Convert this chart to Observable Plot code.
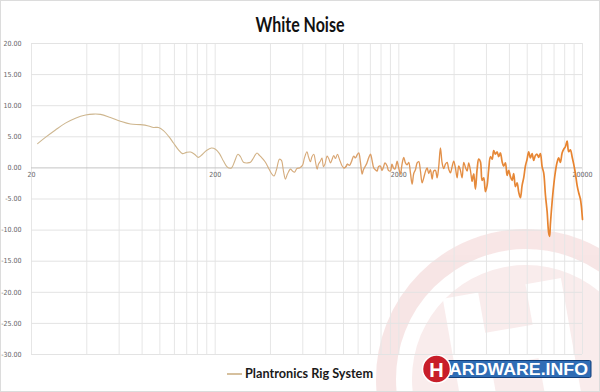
<!DOCTYPE html>
<html>
<head>
<meta charset="utf-8">
<script src="https://cdn.jsdelivr.net/npm/d3@7"></script>
<script src="https://cdn.jsdelivr.net/npm/@observablehq/plot@0.6"></script>
<style>
  html, body { margin: 0; padding: 0; background: #fff; }
  #wrap { position: relative; width: 600px; height: 392px; box-sizing: border-box; border: 1px solid #dcdcdc; overflow: hidden; background: #fff; }
  #wm { position: absolute; left: 0; top: 0; z-index: 0; }
  #content { position: absolute; left: -1px; top: -1px; width: 600px; height: 392px; z-index: 1; }
  #title, #legend { display: block; }
</style>
</head>
<body>
<div id="wrap">
  <svg id="wm" width="600" height="392">
    <g opacity="0.42">
      <circle cx="525" cy="378" r="140" fill="none" stroke="#eec3c3" stroke-width="20"/>
      <circle cx="525" cy="378" r="114" fill="#f2d2d2"/>
      <g transform="rotate(-10 520 350)" fill="#ffffff">
        <rect x="452" y="285" width="36" height="140"/>
        <rect x="536" y="285" width="36" height="140"/>
        <rect x="484" y="326" width="56" height="34"/>
      </g>
    </g>
    <g>
      <rect x="437" y="359.5" width="153" height="17" rx="1.5" fill="#2f6db5" stroke="#123f7a" stroke-width="1"/>
      <text x="448" y="374" fill="#ffffff" font-family="Liberation Sans, Arial, sans-serif" font-weight="bold" font-size="16" textLength="139" lengthAdjust="spacingAndGlyphs">ARDWARE.INFO</text>
      <circle cx="435.5" cy="368" r="14" fill="#c81e2a" stroke="#ffffff" stroke-width="1.5"/>
      <text x="435.5" y="375.5" fill="#ffffff" text-anchor="middle" font-family="Liberation Sans, Arial, sans-serif" font-weight="bold" font-size="20">H</text>
    </g>
  </svg>
  <div id="content">
    <svg id="title" width="600" height="36">
      <text x="300" y="32" text-anchor="middle" font-family="Lato, sans-serif" font-weight="bold" font-size="20" fill="#111" textLength="89" lengthAdjust="spacingAndGlyphs">White Noise</text>
    </svg>
    <div id="chart"></div>
    <svg id="legend" width="600" height="30">
      <line x1="227" x2="242" y1="12" y2="12" stroke="#c9ab7e" stroke-width="1.5"/>
      <text x="245" y="16" font-family="Lato, sans-serif" font-weight="bold" font-size="14" fill="#1a1a1a" textLength="128" lengthAdjust="spacingAndGlyphs">Plantronics Rig System</text>
    </svg>
  </div>
</div>
<script>
// ---- data: frequency (Hz) and level (dB) ----
const bassFreqs = [21.6, 23.8, 27.0, 30.6, 34.7, 39.4, 43.5, 47.5, 53.8, 61.0,
  69.2, 78.4, 86.7, 92.3, 98.3, 104.6, 111.4, 118.6, 126.3, 132.7,
  139.6, 146.8, 154.3, 162.2, 170.6, 179.3, 190.9];
const bassLevels = [3.9, 4.9, 6.1, 7.2, 8.0, 8.5, 8.65, 8.6, 8.1, 7.5,
  7.05, 6.95, 6.75, 6.5, 6.5, 6.0, 5.1, 4.0, 2.9, 2.3,
  2.5, 2.55, 2.2, 1.7, 2.2, 2.8, 3.2];

const midFreqs = [200.8, 211.1, 221.9,
  233.3, 245.3, 254.8, 266.2, 274.7, 285.2, 299.8, 311.3, 323.2, 337.7,
  348.4, 361.8, 375.6, 390.0, 405.0, 417.9, 431.3, 447.7, 459.1, 470.7,
  482.7, 494.9, 513.9, 526.9, 540.3, 557.5, 575.2, 597.3, 612.5, 632.1,
  644.1, 660.4, 672.9, 688.3, 703.1, 718.2, 730.1, 748.6, 762.8, 777.2,
  792.0, 814.1, 830.6, 848.5, 864.6, 884.4, 903.4, 926.3, 949.8, 982.5,
  1005, 1024, 1050, 1077, 1104, 1136, 1161, 1186, 1210, 1236,
  1263, 1283, 1316, 1341, 1366, 1401, 1428, 1460, 1492, 1524,
  1549, 1588, 1618, 1649, 1680, 1727, 1756, 1800, 1834, 1869,
  1905, 1958, 1990];
const midLevels = [3.0, 2.3, 1.1,
  0.1, 0.0, 1.0, 2.2, 1.8, 0.9, 0.8, 0.9, 1.6, 2.4,
  2.0, 1.5, 0.9, 0.0, -0.9, -1.3, -0.3, 1.4, 1.2, -0.5,
  -1.8, -1.0, -0.2, -0.5, -0.7, -0.1, 0.0, 0.4, 1.6, 2.6,
  1.8, 1.0, 1.8, 2.2, 1.0, -0.2, 0.6, 1.1, 1.6, 0.2,
  0.6, 1.9, 1.5, 0.8, 1.3, 2.0, 1.5, 2.2, 1.4, 0.3,
  0.0, 0.1, 0.6, 0.4, 1.0, 1.9, 1.6, 2.1, 2.4, 0.9,
  -1.0, -0.3, 0.3, 0.8, 1.5, 2.2, 1.3, 0.0, -0.3, -0.5,
  0.2, 0.3, -0.4, 0.1, 0.8, 0.3, -0.4, -0.5, 0.6, 0.0,
  -0.2, 1.1, 0.2];

const trebleFreqs = [2041, 2079, 2127, 2173, 2219, 2264, 2313,
  2363, 2411, 2463, 2516, 2567, 2622, 2678, 2733, 2791, 2852,
  2909, 2972, 3036, 3098, 3164, 3232, 3298, 3369, 3441, 3511,
  3587, 3664, 3738, 3819, 3901, 3980, 4066, 4153, 4237, 4329,
  4422, 4512, 4609, 4708, 4803, 4907, 5013, 5114, 5224, 5337,
  5445, 5562, 5682, 5797, 5922, 6049, 6172, 6305, 6441, 6571,
  6713, 6857, 6996, 7147, 7301, 7449, 7609, 7772, 7930, 8101,
  8275, 8443, 8624, 8810, 8989, 9182, 9380, 9570, 9776, 9986,
  10189, 10408, 10633, 10848, 11082, 11320, 11550, 11798, 12052, 12297,
  12561, 12832, 13092, 13241, 13374, 13662, 13939, 14240, 14546, 14841,
  15161, 15487, 15801, 16141, 16489, 16823, 17185, 17556, 17911, 18297,
  18691, 19070, 19480, 19726, 19900, 20000];
const trebleLevels = [-1.0, 0.5, 1.7, 0.8, 0.5, 0.9, -0.8,
  -2.6, -0.9, -0.3, 0.8, 1.0, -0.5, -2.4, -1.6, -0.6, 0.0,
  -0.9, -0.3, -1.8, -0.5, -0.4, -1.6, 0.2, 3.2, 0.8, -0.1,
  0.6, 0.9, -0.2, -0.8, 0.2, 1.1, 0.0, -1.6, 0.3, -0.4,
  -1.6, 0.9, 0.1, -0.5, 0.8, -0.4, -2.1, -1.0, -3.4, -0.2,
  1.4, 1.0, -2.0, -1.6, -3.8, -2.8, -0.2, 1.8, 1.4, 2.8,
  2.2, 2.6, 1.8, 2.4, 1.0, 0.3, 0.8, -1.2, -0.4, -1.4,
  -2.0, -0.9, -3.0, -2.4, -3.9, -4.8, -2.8, -1.6, 0.3, 1.4,
  2.6, 1.6, 2.3, 1.2, 2.0, 2.2, 1.7, 2.3, 0.2, -0.8,
  -4.3, -7.0, -10.5, -11.0, -9.0, -5.5, -2.8, -0.6, 0.9, 1.6,
  0.9, 2.4, 3.0, 3.4, 4.3, 2.6, 2.9, 1.8, 0.6, -0.9,
  -2.8, -4.0, -5.0, -6.2, -7.5, -8.3];

const yTicks = [20, 15, 10, 5, 0, -5, -10, -15, -20, -25, -30];
const xLabels = [20, 200, 2000, 20000];
const xGrid = [20, 40, 60, 80, 100, 120, 140, 160, 180,
  200, 400, 600, 800, 1000, 1200, 1400, 1600, 1800,
  2000, 4000, 6000, 8000, 10000, 12000, 14000, 16000, 18000, 20000];

const freqs = [...bassFreqs, ...midFreqs, ...trebleFreqs];
const levels = [...bassLevels, ...midLevels, ...trebleLevels];
const data = freqs.map((f, i) => ({freq: f, level: levels[i]}));
const lowPart = data.filter(d => d.freq <= 1050);
const midPart = data.filter(d => d.freq >= 1005 && d.freq <= 5114);
const highPart = data.filter(d => d.freq >= 5013);

const chart = Plot.plot({
  width: 600,
  height: 326,
  marginTop: 7,
  marginBottom: 8,
  marginLeft: 31,
  marginRight: 18,
  style: {background: "transparent", fontFamily: "'DejaVu Sans Condensed', sans-serif", fontSize: "7px", color: "#666"},
  x: {type: "log", domain: [20, 20000], axis: null},
  y: {domain: [-30, 20], ticks: yTicks, tickFormat: d => d.toFixed(2), tickSize: 0, tickPadding: 10, label: null},
  marks: [
    Plot.ruleX(xGrid, {x: d => d, stroke: "#e6e6e6", strokeWidth: 1}),
    Plot.ruleY(yTicks.filter(d => d !== 0), {y: d => d, stroke: "#e3e3e3", strokeWidth: 1}),
    Plot.ruleY([0], {y: d => d, stroke: "#c4c4c4", strokeWidth: 1}),
    Plot.text(xLabels, {x: d => d, y: 0, dy: 7, text: d => String(d), fill: "#666", fontSize: 7}),
    Plot.line(lowPart, {x: "freq", y: "level", stroke: "#d39a60", strokeWidth: 1.1, curve: "catmull-rom"}),
    Plot.line(midPart, {x: "freq", y: "level", stroke: "#d39a60", strokeWidth: 1.35, curve: "catmull-rom"}),
    Plot.line(highPart, {x: "freq", y: "level", stroke: "#d39a60", strokeWidth: 1.7, curve: "catmull-rom"})
  ]
});
document.getElementById("chart").appendChild(chart);

// gradient stroke from tan (bass) to orange (treble)
const svg = d3.select(chart);
const defs = svg.insert("defs", ":first-child");
const grad = defs.append("linearGradient")
  .attr("id", "lineGrad").attr("gradientUnits", "userSpaceOnUse")
  .attr("x1", 31).attr("x2", 582).attr("y1", 0).attr("y2", 0);
[[0, "#cdb791"], [0.35, "#cfb48a"], [0.6, "#dba06a"], [0.8, "#e58a3c"], [1, "#e8822c"]]
  .forEach(([o, c]) => grad.append("stop").attr("offset", o).attr("stop-color", c));
svg.selectAll("g[aria-label='line']").attr("stroke", "url(#lineGrad)")
  .selectAll("path").attr("stroke", "url(#lineGrad)");
</script>
</body>
</html>
